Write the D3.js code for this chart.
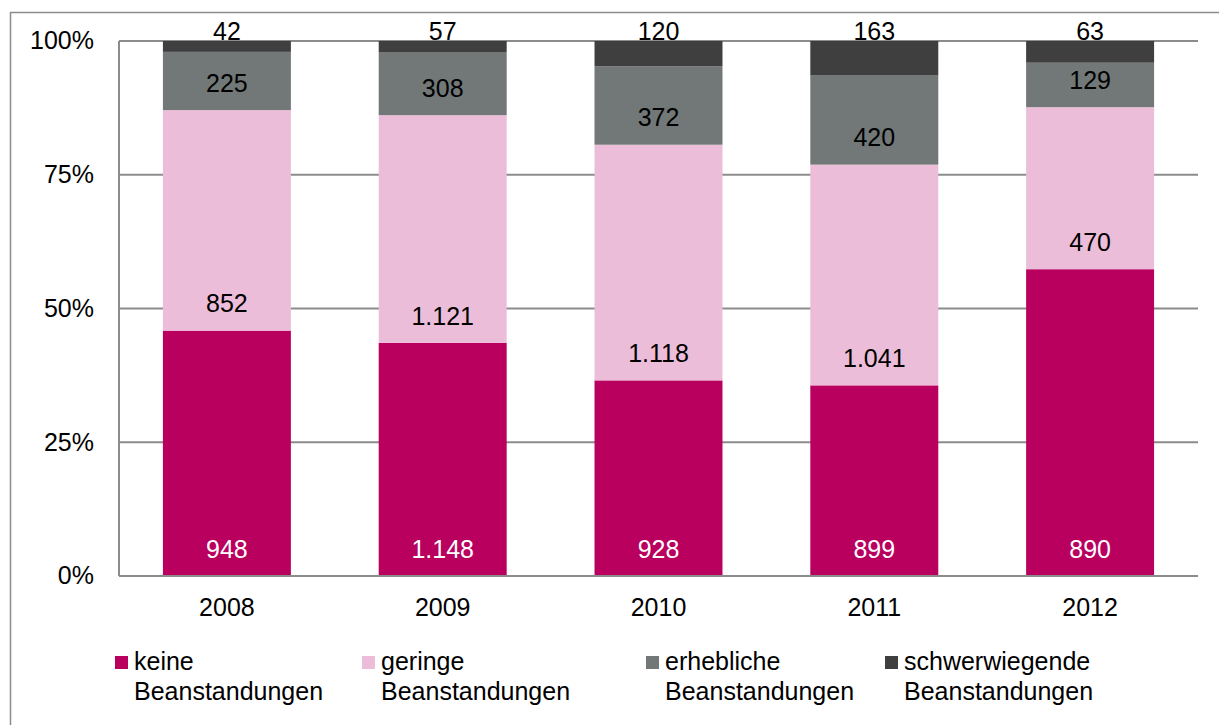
<!DOCTYPE html>
<html>
<head>
<meta charset="utf-8">
<script src="https://cdn.jsdelivr.net/npm/d3@7"></script>
<style>
  body { margin: 0; background: #fff; }
  svg text { font-family: "Liberation Sans", Arial, sans-serif; }
</style>
</head>
<body>
<div id="chart"></div>
<script>
const years = ["2008", "2009", "2010", "2011", "2012"];
const keine = [948, 1148, 928, 899, 890];
const geringe = [852, 1121, 1118, 1041, 470];
const erhebliche = [225, 308, 372, 420, 129];
const schwerwiegende = [42, 57, 120, 163, 63];
const seriesNames = ["keine Beanstandungen", "geringe Beanstandungen", "erhebliche Beanstandungen", "schwerwiegende Beanstandungen"];
const seriesColors = ["#b9005f", "#ecbdd8", "#717877", "#3f3f3f"];
const yTicks = [0, 0.25, 0.5, 0.75, 1];

function renderChart() {
    const width = 1219, height = 725;
    const margin = {left: 119, right: 21, top: 41, bottom: 149};
    const fontSize = "25px";

    const de = d3.formatLocale({decimal: ",", thousands: ".", grouping: [3], currency: ["", " €"]});
    const fmt = de.format(",d");

    const values = [keine, geringe, erhebliche, schwerwiegende];
    const rows = years.map((y, i) => {
        const r = {year: y};
        values.forEach((v, k) => r[k] = v[i]);
        return r;
    });
    const stack = d3.stack()
        .keys([0, 1, 2, 3])
        .offset(d3.stackOffsetExpand);
    const layers = stack(rows);

    const svg = d3.select("#chart").append("svg")
        .attr("width", width)
        .attr("height", height);

    // outer frame
    svg.append("rect")
        .attr("x", 10.5).attr("y", 12.5)
        .attr("width", width).attr("height", height)
        .attr("fill", "none")
        .attr("stroke", "#8c8c8c")
        .attr("stroke-width", 1.5);

    const x = d3.scaleBand()
        .domain(years)
        .range([margin.left, width - margin.right])
        .paddingInner(0.407)
        .paddingOuter(0.2035);

    const y = d3.scaleLinear()
        .domain([0, 1])
        .range([height - margin.bottom, margin.top]);

    // gridlines
    svg.append("g")
        .selectAll("line")
        .data(yTicks)
        .join("line")
        .attr("x1", margin.left)
        .attr("x2", width - margin.right)
        .attr("y1", d => y(d))
        .attr("y2", d => y(d))
        .attr("stroke", "#8c8c8c")
        .attr("stroke-width", 2);

    // y labels
    svg.append("g")
        .selectAll("text")
        .data(yTicks)
        .join("text")
        .attr("x", 94)
        .attr("y", d => y(d))
        .attr("dy", "0.33em")
        .attr("text-anchor", "end")
        .style("font-size", fontSize)
        .text(d => d3.format(".0%")(d));

    // bars
    const layer = svg.append("g")
        .selectAll("g")
        .data(layers)
        .join("g")
        .attr("fill", (d, i) => seriesColors[i]);

    layer.selectAll("rect")
        .data(d => d)
        .join("rect")
        .attr("x", d => x(d.data.year))
        .attr("width", x.bandwidth())
        .attr("y", d => y(d[1]))
        .attr("height", d => y(d[0]) - y(d[1]));

    // axis lines
    svg.append("line")
        .attr("x1", margin.left).attr("x2", margin.left)
        .attr("y1", y(1)).attr("y2", y(0))
        .attr("stroke", "#8c8c8c").attr("stroke-width", 2);
    svg.append("line")
        .attr("x1", margin.left).attr("x2", width - margin.right)
        .attr("y1", y(0)).attr("y2", y(0))
        .attr("stroke", "#8c8c8c").attr("stroke-width", 2);

    // value labels
    const labels = svg.append("g")
        .style("font-size", fontSize)
        .attr("text-anchor", "middle");
    layers.forEach((L, k) => {
        labels.selectAll(null)
            .data(L)
            .join("text")
            .attr("x", d => x(d.data.year) + x.bandwidth() / 2)
            .attr("y", d => k === 3 ? y(1) - 10 : y(d[0]) - 27)
            .attr("dy", "0.35em")
            .attr("fill", k === 0 ? "#fff" : "#000")
            .text(d => fmt(d.data[k]));
    });

    // x labels
    svg.append("g")
        .selectAll("text")
        .data(years)
        .join("text")
        .attr("x", d => x(d) + x.bandwidth() / 2)
        .attr("y", 616)
        .attr("text-anchor", "middle")
        .style("font-size", fontSize)
        .text(d => d);

    // legend
    const legendX = [115, 362, 646, 885];
    const legend = svg.append("g")
        .selectAll("g")
        .data(seriesNames)
        .join("g")
        .attr("transform", (d, i) => `translate(${legendX[i]},0)`);
    legend.append("rect")
        .attr("x", 0).attr("y", 656)
        .attr("width", 13).attr("height", 13)
        .attr("fill", (d, i) => seriesColors[i]);
    legend.append("text")
        .attr("x", 19).attr("y", 670)
        .style("font-size", fontSize)
        .text(d => d.split(" ")[0]);
    legend.append("text")
        .attr("x", 19).attr("y", 700)
        .style("font-size", fontSize)
        .text(d => d.split(" ")[1]);
}

document.addEventListener("DOMContentLoaded", function() {
    renderChart();
});
</script>
</body>
</html>
